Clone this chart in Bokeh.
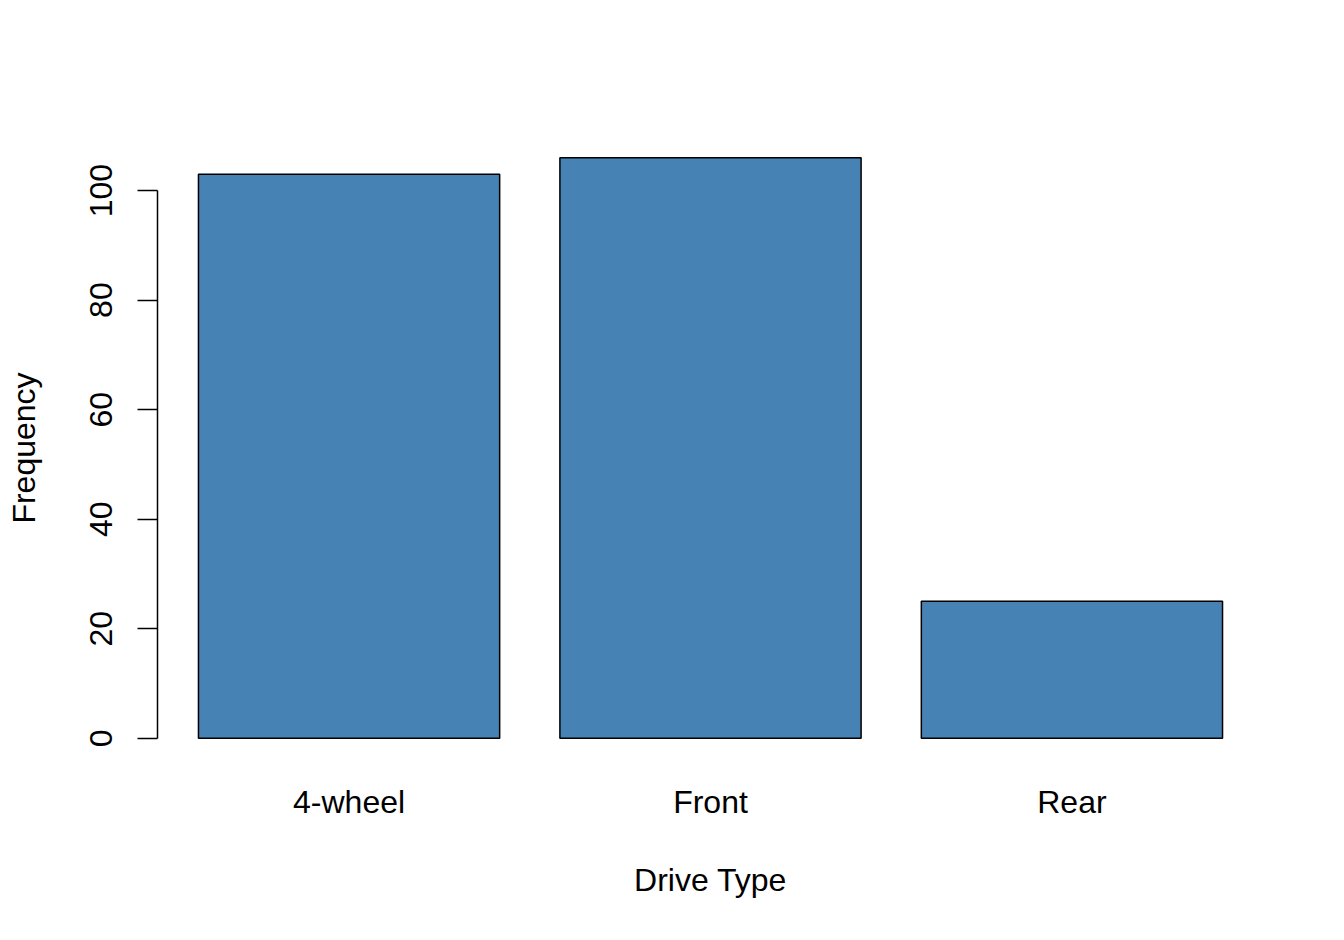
from bokeh.plotting import figure
from bokeh.models import FixedTicker, Range1d
from bokeh.embed import file_html
from bokeh.resources import INLINE

categories = ["4-wheel", "Front", "Rear"]
frequency = [103, 106, 25]
y_ticks = [0, 20, 40, 60, 80, 100]

# R barplot geometry: width 1, space 0.2, 4% axis extension
bar_w = 1.0
space = 0.2
centers = [space + i * (bar_w + space) + bar_w / 2 for i in range(len(categories))]
left = space
right = space + len(categories) * (bar_w + space) - space
xpad = (right - left) * 0.04
ymax = max(frequency)
ypad = ymax * 0.04

FONT = "Liberation Sans"

p = figure(width=1328, height=924, output_backend="svg", toolbar_location=None,
           x_range=Range1d(left - xpad, right + xpad),
           y_range=Range1d(0 - ypad, ymax + ypad),
           min_border_left=157, min_border_top=134,
           min_border_right=65, min_border_bottom=163)
p.outline_line_color = None
p.grid.visible = False
p.background_fill_color = "white"
p.border_fill_color = "white"

p.vbar(x=centers, top=frequency, bottom=0, width=bar_w,
       fill_color="#4682B4", line_color="black", line_width=1.5)

# y axis
ya = p.yaxis[0]
ya.ticker = FixedTicker(ticks=y_ticks)
ya.bounds = (0, 100)
ya.axis_line_width = 1.5
ya.major_tick_line_width = 1.5
ya.major_tick_out = 20
ya.major_tick_in = 0
ya.minor_tick_out = 0
ya.minor_tick_in = 0
ya.major_label_orientation = "vertical"
ya.major_label_text_font = FONT
ya.major_label_text_font_size = "32px"
ya.major_label_text_color = "black"
ya.major_label_standoff = 25
ya.axis_label = "Frequency"
ya.axis_label_text_font = FONT
ya.axis_label_text_font_size = "32px"
ya.axis_label_text_font_style = "normal"
ya.axis_label_text_color = "black"
ya.axis_label_standoff = 46

# x axis: labels only
xa = p.xaxis[0]
xa.ticker = FixedTicker(ticks=centers)
xa.major_label_overrides = {c: lab for c, lab in zip(centers, categories)}
xa.axis_line_color = None
xa.major_tick_line_color = None
xa.minor_tick_line_color = None
xa.major_label_text_font = FONT
xa.major_label_text_font_size = "32px"
xa.major_label_text_color = "black"
xa.major_label_standoff = 16
xa.axis_label = "Drive Type"
xa.axis_label_text_font = FONT
xa.axis_label_text_font_size = "32px"
xa.axis_label_text_font_style = "normal"
xa.axis_label_text_color = "black"
xa.axis_label_standoff = 39

open("out.html", "w").write(file_html(p, INLINE))
